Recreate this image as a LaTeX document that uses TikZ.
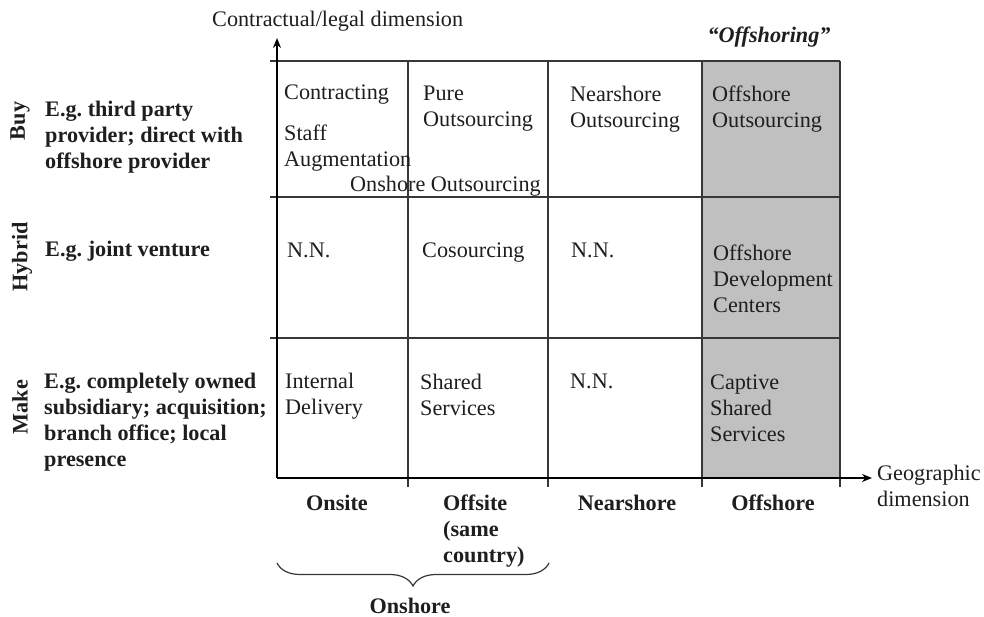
\documentclass[tikz,border=0pt]{standalone}
\usepackage{fontspec}
\setmainfont{Liberation Serif}
\usetikzlibrary{arrows.meta,decorations.pathreplacing}
\definecolor{cellgray}{RGB}{192,192,192}
\definecolor{linegray}{RGB}{55,55,55}
\definecolor{txt}{RGB}{30,30,30}
\frenchspacing
\begin{document}
\begin{tikzpicture}[x=1pt,y=-1pt,
  cell/.style={anchor=north west,inner sep=0pt,align=left,text=txt,font=\fontsize{22.2}{26}\selectfont},
  bcell/.style={cell,font=\fontsize{22.2}{26}\selectfont\bfseries},
  bctr/.style={bcell,anchor=north,align=center},
  side/.style={inner sep=0pt,rotate=90,anchor=center,text=txt,font=\fontsize{22.2}{26}\selectfont\bfseries},
  grid/.style={draw=linegray,line width=1.2pt},
  axis/.style={draw=black,line width=1.8pt},
  tip/.style={-{Stealth[length=10pt,width=8pt]}},
  bracestyle/.style={draw=linegray,line width=1.2pt,decorate,decoration={brace,amplitude=23pt}}]
\useasboundingbox (0,0) rectangle (984,616);
% gray offshore column
\fill[cellgray] (702,61) rectangle (840,478);
% grid
\draw[grid] (270,61) -- (840,61);
\draw[grid] (270,197) -- (840,197);
\draw[grid] (270,338) -- (840,338);
\draw[grid] (408,61) -- (408,487);
\draw[grid] (548,61) -- (548,487);
\draw[grid] (702,61) -- (702,487);
\draw[grid] (840,61) -- (840,487);
% axes
\coordinate (O) at (277,478);
\coordinate (ytip) at (277,38);
\coordinate (xtip) at (872,478);
\draw[axis,tip] (O) -- (ytip);
\draw[axis,tip] (O) -- (xtip);
% axis labels
\node[cell] (ylab) at (212,10.5) {Contractual/legal dimension};
\node[cell] (xlab) at (877,464.5) {Geographic\\dimension};
\node[cell,anchor=north,font=\fontsize{22.2}{26}\selectfont\bfseries\itshape] (offshoring) at (769,26.5) {“Offshoring”};
% row labels
\node[side] (buy) at (20,121) {Buy};
\node[side] (hybrid) at (22,257) {Hybrid};
\node[side] (make) at (20,407) {Make};
\node[bcell] (dbuy) at (45,100.5) {E.g. third party\\provider; direct with\\offshore provider};
\node[bcell] (dhyb) at (45,240.5) {E.g. joint venture};
\node[bcell] (dmake) at (44,372.5) {E.g. completely owned\\subsidiary; acquisition;\\branch office; local\\presence};
% row 1
\node[cell] (contr) at (284,84.5) {Contracting};
\node[cell] (staff) at (284,124.5) {Staff\\Augmentation};
\node[cell] (onsh) at (350,175.5) {Onshore Outsourcing};
\node[cell] (pure) at (423,85.5) {Pure\\Outsourcing};
\node[cell] (nearo) at (570,85.5) {Nearshore\\Outsourcing};
\node[cell] (offo) at (712,85.5) {Offshore\\Outsourcing};
% row 2
\node[cell] (nn1) at (287,242.5) {N.N.};
\node[cell] (cos) at (422,242.5) {Cosourcing};
\node[cell] (nn2) at (571,242.5) {N.N.};
\node[cell] (odc) at (713,244.5) {Offshore\\Development\\Centers};
% row 3
\node[cell] (intd) at (285,372.5) {Internal\\Delivery};
\node[cell] (shs) at (420,373.5) {Shared\\Services};
\node[cell] (nn3) at (570,373.5) {N.N.};
\node[cell] (css) at (710,374.5) {Captive\\Shared\\Services};
% column labels
\node[bctr] (onsite) at (337,494.5) {Onsite};
\node[bcell] (offsite) at (443,494.5) {Offsite\\(same\\country)};
\node[bctr] (nears) at (627,494.5) {Nearshore};
\node[bctr] (offs) at (773,494.5) {Offshore};
% brace
\coordinate (bl) at (277,563);
\coordinate (br) at (549,563);
\draw[bracestyle] (br) -- (bl);
\node[bctr] (onshore) at (410,597.5) {Onshore};
\end{tikzpicture}
\end{document}
